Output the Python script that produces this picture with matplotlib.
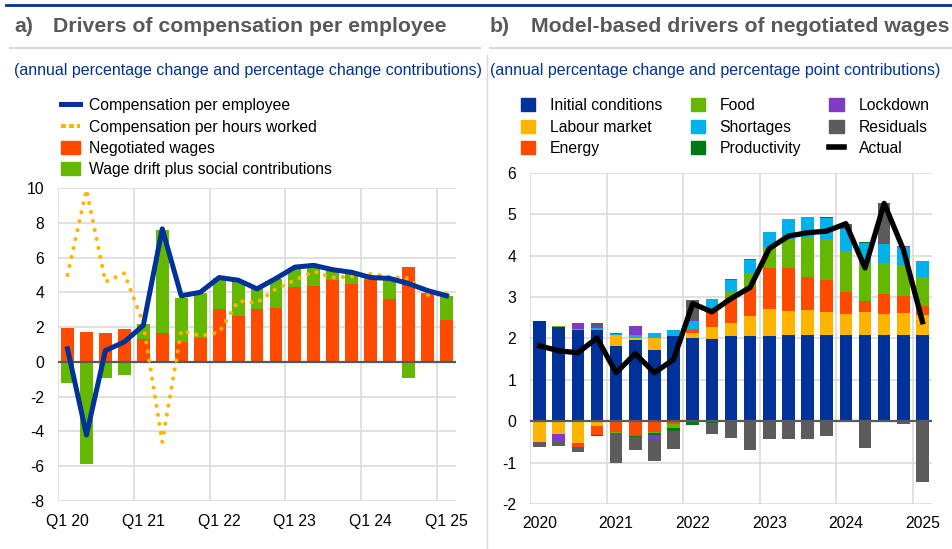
import numpy as np
import matplotlib.pyplot as plt
from matplotlib.lines import Line2D
from matplotlib.patches import Patch

plt.rcParams['font.family'] = ['Liberation Sans', 'DejaVu Sans']
plt.rcParams['axes.unicode_minus'] = False

# categories (quarters Q1 2020 - Q1 2025)
periods = ['Q1 20', 'Q2 20', 'Q3 20', 'Q4 20', 'Q1 21', 'Q2 21', 'Q3 21', 'Q4 21',
           'Q1 22', 'Q2 22', 'Q3 22', 'Q4 22', 'Q1 23', 'Q2 23', 'Q3 23', 'Q4 23',
           'Q1 24', 'Q2 24', 'Q3 24', 'Q4 24', 'Q1 25']
a_ticks = ['Q1 20', 'Q1 21', 'Q1 22', 'Q1 23', 'Q1 24', 'Q1 25']
b_ticks = ['2020', '2021', '2022', '2023', '2024', '2025']

# panel a
comp_employee = [0.75, -4.2, 0.65, 1.15, 2.1, 7.65, 3.8, 4.0, 4.85, 4.7, 4.2, 4.8,
                 5.45, 5.55, 5.3, 5.15, 4.85, 4.8, 4.5, 4.1, 3.8]
comp_hours = [5.0, 9.9, 4.6, 5.1, 2.2, -4.6, 1.8, 1.5, 1.7, 3.5, 3.4, 4.2,
              4.7, 5.2, 4.85, 4.9, 5.05, 4.9, 4.8, 3.85, 3.9]
negotiated = [1.95, 1.70, 1.65, 1.90, 1.33, 1.64, 1.14, 1.37, 3.02, 2.64, 3.02, 3.10,
              4.32, 4.35, 4.68, 4.50, 4.70, 3.60, 5.43, 3.95, 2.39]
wage_drift = [-1.20, -5.85, -0.90, -0.75, 0.85, 5.95, 2.56, 2.60, 1.80, 2.00, 1.20, 1.65,
              1.10, 1.15, 0.60, 0.65, 0.15, 1.20, -0.90, -0.05, 1.41]

# panel b
initial = [2.42, 2.28, 2.21, 2.20, 1.82, 1.97, 1.71, 2.06, 2.01, 1.98, 2.05, 2.05,
           2.06, 2.07, 2.08, 2.08, 2.08, 2.08, 2.08, 2.09, 2.08]
labour = [-0.50, -0.31, -0.52, -0.11, 0.26, 0.04, 0.31, -0.03, 0.11, 0.30, 0.33, 0.49,
          0.66, 0.59, 0.60, 0.56, 0.52, 0.56, 0.52, 0.53, 0.48]
energy = [0, 0, -0.10, -0.23, -0.26, -0.35, -0.26, -0.04, 0.10, 0.40, 0.62, 0.70,
          0.98, 1.03, 0.81, 0.78, 0.52, 0.26, 0.47, 0.41, 0.23]
food = [0, 0.01, 0.02, 0.03, -0.02, 0, -0.03, -0.10, 0, 0, 0.12, 0.33,
        0.49, 0.72, 0.95, 0.97, 0.99, 0.91, 0.75, 0.74, 0.70]
shortages = [0, 0.01, 0, 0.02, 0.03, 0.07, 0.10, 0.14, 0.20, 0.27, 0.30, 0.33,
             0.38, 0.47, 0.49, 0.51, 0.54, 0.50, 0.47, 0.43, 0.38]
productivity = [0, 0, 0, -0.02, 0, -0.04, -0.05, -0.06, -0.09, -0.05, -0.01, -0.01,
                0, 0, 0, 0.02, 0, 0.02, 0, 0, 0]
lockdown = [0, -0.17, 0.14, 0.05, 0.03, 0.23, -0.09, 0, 0.02, -0.01, 0.02, 0.02,
            0, 0, 0, 0, 0, 0, 0, 0.02, 0]
residuals = [-0.12, -0.12, -0.12, 0.06, -0.72, -0.30, -0.53, -0.45, 0.48, -0.24, -0.39, -0.69,
             -0.44, -0.44, -0.43, -0.35, 0.12, -0.64, 0.97, -0.07, -1.47]
actual = [1.82, 1.70, 1.65, 2.01, 1.17, 1.63, 1.17, 1.49, 2.84, 2.64, 2.96, 3.23,
          4.17, 4.47, 4.55, 4.59, 4.77, 3.70, 5.26, 4.15, 2.40]

BLUE = '#003299'
YELLOW = '#FFB400'
RED = '#FF4B00'
GREEN = '#65B800'
CYAN = '#00B1EA'
DGREEN = '#007816'
PURPLE = '#8139C6'
GREY = '#5C5C5C'
TITLE = '#595959'
GRID = '#D9D9D9'
FS = 11.3

fig = plt.figure(figsize=(9.53, 5.49), dpi=100)
x = np.arange(len(periods))


def style_axis(ax, ylim, ystep, labels):
    ax.set_xlim(-0.5, len(periods) - 0.5)
    ax.set_ylim(*ylim)
    ax.set_yticks(np.arange(ylim[0], ylim[1] + 0.01, ystep))
    ax.set_xticks(x[::4])
    ax.set_xticklabels(labels)
    ax.set_xticks(np.arange(-0.5, len(periods), 4), minor=True)
    ax.tick_params(which='both', length=0, labelsize=FS)
    ax.tick_params(axis='y', pad=10)
    ax.tick_params(axis='x', pad=9)
    ax.grid(True, axis='y', color=GRID, lw=1.1)
    ax.grid(True, axis='x', which='minor', color=GRID, lw=1.1)
    ax.set_axisbelow(True)
    for s in ax.spines.values():
        s.set_visible(False)
    ax.axhline(0, color='#595959', lw=1.6, zorder=4)


# ---- panel a ----
ax1 = fig.add_axes([0.0609, 0.0874, 0.4176, 0.5702])
neg = np.array(negotiated)
drift = np.array(wage_drift)
ax1.bar(x, neg, width=0.68, color=RED, zorder=2)
ax1.bar(x, drift, bottom=np.where(drift > 0, neg, 0), width=0.68, color=GREEN, zorder=2)
ax1.plot(x, comp_hours, color=YELLOW, lw=3.0, ls=(0, (0.001, 2.2)),
         dash_capstyle='round', zorder=5)
ax1.plot(x, comp_employee, color=BLUE, lw=3.6, zorder=6)
style_axis(ax1, (-8, 10), 2, a_ticks)

h1 = [Line2D([], [], color=YELLOW, lw=2.9) if False else Line2D([], [], color=BLUE, lw=3.6),
      Line2D([], [], color=YELLOW, lw=2.9, ls=(0, (1.2, 0.8))),
      Patch(color=RED), Patch(color=GREEN)]
l1 = ['Compensation per employee', 'Compensation per hours worked',
      'Negotiated wages', 'Wage drift plus social contributions']
ax1.legend(h1, l1, loc='upper left', bbox_to_anchor=(0.064, 0.821),
           bbox_transform=fig.transFigure, frameon=False, fontsize=FS,
           handlelength=1.2, handleheight=0.9, handletextpad=0.6,
           labelspacing=0.4, borderpad=0, borderaxespad=0)

# ---- panel b ----
ax2 = fig.add_axes([0.5561, 0.082, 0.4219, 0.6034])
series = [('Initial conditions', initial, BLUE), ('Labour market', labour, YELLOW),
          ('Energy', energy, RED), ('Food', food, GREEN), ('Shortages', shortages, CYAN),
          ('Productivity', productivity, DGREEN), ('Lockdown', lockdown, PURPLE),
          ('Residuals', residuals, GREY)]
pos_base = np.zeros(len(x))
neg_base = np.zeros(len(x))
for name, vals, col in series:
    v = np.array(vals)
    bottom = np.where(v >= 0, pos_base, neg_base)
    ax2.bar(x, v, bottom=bottom, width=0.66, color=col, zorder=2)
    pos_base += np.where(v >= 0, v, 0)
    neg_base += np.where(v < 0, v, 0)
ax2.plot(x, actual, color='black', lw=3.8, zorder=6)
style_axis(ax2, (-2, 6), 1, b_ticks)

h2 = [Patch(color=c) for _, _, c in series] + [Line2D([], [], color='black', lw=4)]
l2 = [n for n, _, _ in series] + ['Actual']
ax2.legend(h2, l2, ncol=3, loc='upper left', bbox_to_anchor=(0.5467, 0.821),
           bbox_transform=fig.transFigure, frameon=False, fontsize=FS,
           handlelength=0.9, handleheight=0.9, handletextpad=0.95,
           labelspacing=0.4, columnspacing=1.8, borderpad=0, borderaxespad=0)

# ---- titles and frame lines ----
ty = 1 - 27 / 549
fig.text(14 / 953, ty, 'a)', fontsize=15.3, fontweight='bold', color=TITLE, va='center')
fig.text(53 / 953, ty, 'Drivers of compensation per employee', fontsize=15.3,
         fontweight='bold', color=TITLE, va='center')
fig.text(490 / 953, ty, 'b)', fontsize=15.3, fontweight='bold', color=TITLE, va='center')
fig.text(531 / 953, ty, 'Model-based drivers of negotiated wages', fontsize=15.3,
         fontweight='bold', color=TITLE, va='center')
sy = 1 - 71 / 549
fig.text(14 / 953, sy, '(annual percentage change and percentage change contributions)',
         fontsize=11.5, color=BLUE, va='center')
fig.text(490 / 953, sy, '(annual percentage change and percentage point contributions)',
         fontsize=11.5, color=BLUE, va='center')

fig.add_artist(Line2D([6 / 953, 1], [1 - 5 / 549] * 2, color=BLUE, lw=2))
fig.add_artist(Line2D([10 / 953, 480 / 953], [1 - 48 / 549] * 2, color=GRID, lw=1.5))
fig.add_artist(Line2D([490 / 953, 1], [1 - 48 / 549] * 2, color=GRID, lw=1.5))
fig.add_artist(Line2D([487 / 953] * 2, [0, 1 - 55 / 549], color=GRID, lw=1))

fig.savefig('out.png', dpi=100)
